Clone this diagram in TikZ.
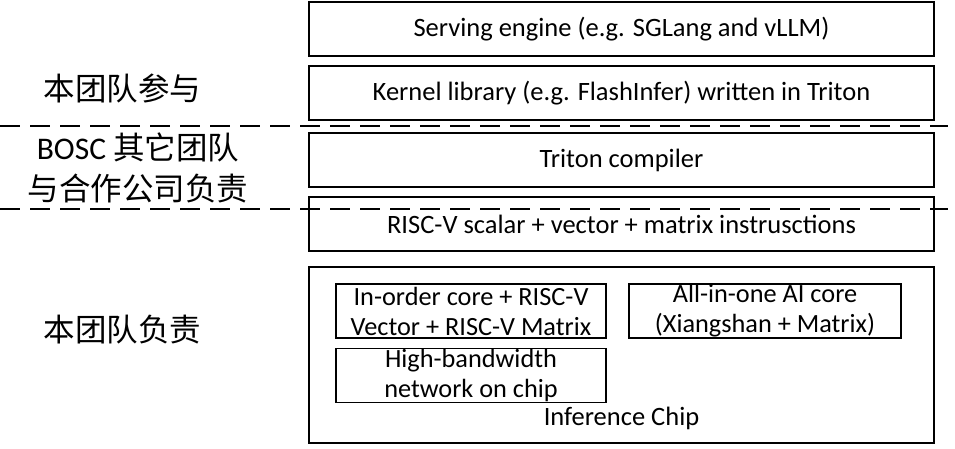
\documentclass[tikz,border=0pt]{standalone}
\usepackage{fontspec}
\setmainfont{Carlito}
\newfontfamily\cjk{Noto Sans CJK SC}
\begin{document}
\begin{tikzpicture}[x=1pt,y=-1pt,
  layer/.style={draw,line width=1.6pt,minimum width=625pt,minimum height=54pt,inner sep=0pt,font=\fontsize{26.5}{30}\selectfont},
  inbox/.style={draw,line width=1.6pt,minimum width=270pt,minimum height=54pt,inner sep=0pt,align=center,font=\fontsize{26.3}{30}\selectfont},
  side/.style={align=center,font=\fontsize{31.5}{41}\selectfont},
  sep/.style={dashed,dash pattern=on 20pt off 10pt,line width=1.6pt}]
\useasboundingbox (0,0) rectangle (955,448);
\node[layer] (serve) at (621.5,29) {Serving engine (e.g. SGLang and vLLM)};
\node[layer] (kernel) at (621.5,93) {Kernel library (e.g. FlashInfer) written in Triton};
\node[layer] (triton) at (621.5,160) {Triton compiler};
\node[layer] (isa) at (621.5,224) {RISC-V scalar + vector + matrix instrusctions};
\node[draw,line width=1.6pt,minimum width=625pt,minimum height=176pt,inner sep=0pt] (chip) at (621.5,355) {};
\node[inbox] (ino) at (471,311) {In-order core + RISC-V\\Vector + RISC-V Matrix};
\node[inbox,minimum width=272pt] (aio) at (765,311) {All-in-one AI core\\(Xiangshan + Matrix)};
\node[inbox] (noc) at (471,375.5) {High-bandwidth\\network on chip};
\node[font=\fontsize{26.5}{30}\selectfont] (chipl) at (621.5,418) {Inference Chip};
\coordinate (d1a) at (0,126); \coordinate (d1b) at (948,126);
\coordinate (d2a) at (0,209); \coordinate (d2b) at (948,209);
\draw[sep] (d1a) -- (d1b);
\draw[sep] (d2a) -- (d2b);
\node[side] (l1) at (122.5,88) {\cjk 本团队参与};
\node[side] (l2) at (138,168) {BOSC {\cjk 其它团队}\\{\cjk 与合作公司负责}};
\node[side] (l3) at (122.5,330) {\cjk 本团队负责};
\end{tikzpicture}
\end{document}
